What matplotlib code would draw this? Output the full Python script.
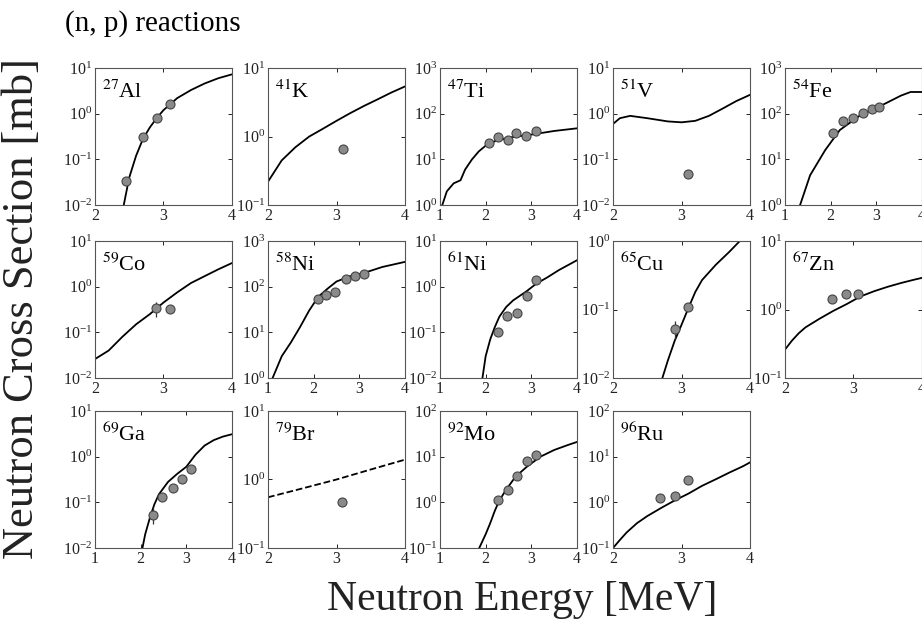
import numpy as np
import matplotlib
matplotlib.use('Agg')
import matplotlib.pyplot as plt

plt.rcParams['font.family'] = ['Liberation Serif', 'DejaVu Serif']
plt.rcParams['mathtext.fontset'] = 'stix'

# isotope labels, axis ranges
names = [r'$^{27}$Al', r'$^{41}$K', r'$^{47}$Ti', r'$^{51}$V', r'$^{54}$Fe',
         r'$^{59}$Co', r'$^{58}$Ni', r'$^{61}$Ni', r'$^{65}$Cu', r'$^{67}$Zn',
         r'$^{69}$Ga', r'$^{79}$Br', r'$^{92}$Mo', r'$^{96}$Ru']
xlims = [(2, 4), (2, 4), (1, 4), (2, 4), (1, 4),
         (2, 4), (1, 4), (1, 4), (2, 4), (2, 4),
         (1, 4), (2, 4), (1, 4), (2, 4)]
ylims = [(1e-2, 1e1), (1e-1, 1e1), (1e0, 1e3), (1e-2, 1e1), (1e0, 1e3),
         (1e-2, 1e1), (1e0, 1e3), (1e-2, 1e1), (1e-2, 1e0), (1e-1, 1e1),
         (1e-2, 1e1), (1e-1, 1e1), (1e-1, 1e2), (1e-1, 1e2)]

# calculated curves
al27_cx = [2.42, 2.5, 2.6, 2.7, 2.8, 2.9, 3.0, 3.2, 3.4, 3.6, 3.8, 4.0]
al27_cy = [0.01, 0.04, 0.12, 0.28, 0.5, 0.8, 1.2, 2.2, 3.3, 4.6, 6.0, 7.3]
k41_cx = [2.0, 2.2, 2.4, 2.6, 2.8, 3.0, 3.2, 3.4, 3.6, 3.8, 4.0]
k41_cy = [0.22, 0.45, 0.7, 1.0, 1.3, 1.7, 2.2, 2.8, 3.5, 4.4, 5.4]
ti47_cx = [1.05, 1.15, 1.3, 1.45, 1.55, 1.7, 1.85, 2.0, 2.2, 2.5, 3.0, 3.5, 4.0]
ti47_cy = [1.0, 2.0, 3.0, 3.5, 6.0, 10, 15, 20, 25, 30, 35, 42, 48]
v51_cx = [2.0, 2.1, 2.25, 2.5, 2.8, 3.0, 3.2, 3.4, 3.6, 3.8, 4.0]
v51_cy = [0.6, 0.8, 0.9, 0.8, 0.68, 0.65, 0.7, 0.9, 1.3, 1.9, 2.6]
fe54_cx = [1.33, 1.55, 1.88, 2.2, 2.65, 3.1, 3.54, 3.75, 4.0]
fe54_cy = [1.0, 4.5, 16, 44, 93, 150, 250, 300, 300]
co59_cx = [2.0, 2.2, 2.4, 2.6, 2.8, 3.0, 3.2, 3.4, 3.6, 3.8, 4.0]
co59_cy = [0.026, 0.04, 0.08, 0.15, 0.25, 0.45, 0.75, 1.2, 1.7, 2.4, 3.3]
ni58_cx = [1.1, 1.3, 1.5, 1.7, 1.9, 2.1, 2.3, 2.5, 2.8, 3.1, 3.5, 4.0]
ni58_cy = [1.0, 3.0, 6.0, 13, 30, 60, 90, 130, 170, 200, 270, 350]
ni61_cx = [1.93, 2.0, 2.1, 2.2, 2.3, 2.45, 2.6, 2.9, 3.1, 3.35, 3.6, 4.0]
ni61_cy = [0.01, 0.03, 0.07, 0.13, 0.22, 0.36, 0.5, 0.8, 1.15, 1.6, 2.3, 3.8]
cu65_cx = [2.72, 2.8, 2.9, 3.0, 3.1, 3.2, 3.3, 3.5, 3.7, 3.85, 4.0]
cu65_cy = [0.01, 0.018, 0.035, 0.06, 0.105, 0.18, 0.27, 0.45, 0.7, 1.0, 1.35]
zn67_cx = [2.0, 2.1, 2.2, 2.3, 2.5, 2.7, 2.9, 3.1, 3.3, 3.5, 3.7, 3.9, 4.0]
zn67_cy = [0.26, 0.35, 0.45, 0.55, 0.73, 0.95, 1.2, 1.55, 1.85, 2.15, 2.45, 2.75, 2.9]
ga69_cx = [2.04, 2.1, 2.2, 2.3, 2.4, 2.6, 2.8, 3.0, 3.2, 3.4, 3.6, 3.8, 4.0]
ga69_cy = [0.01, 0.02, 0.045, 0.09, 0.15, 0.28, 0.42, 0.6, 1.1, 1.75, 2.3, 2.75, 3.1]
br79_cx = [2.0, 2.5, 3.0, 3.5, 4.0]
br79_cy = [0.55, 0.74, 1.0, 1.4, 1.95]
mo92_cx = [1.86, 2.0, 2.1, 2.2, 2.3, 2.45, 2.65, 2.9, 3.2, 3.5, 3.8, 4.0]
mo92_cy = [0.1, 0.2, 0.35, 0.65, 1.1, 1.9, 3.6, 6.0, 10, 14, 18, 21]
ru96_cx = [2.0, 2.1, 2.2, 2.35, 2.5, 2.7, 2.9, 3.1, 3.3, 3.5, 3.7, 3.9, 4.0]
ru96_cy = [0.1, 0.15, 0.22, 0.35, 0.5, 0.75, 1.1, 1.55, 2.3, 3.2, 4.5, 6.2, 7.5]

# measured points
al27_px = [2.46, 2.70, 2.90, 3.09]
al27_py = [0.033, 0.31, 0.8, 1.6]
k41_px = [3.1]
k41_py = [0.66]
ti47_px = [2.07, 2.28, 2.48, 2.67, 2.89, 3.1]
ti47_py = [23, 31, 26, 38, 32, 42]
v51_px = [3.1]
v51_py = [0.047]
fe54_px = [2.06, 2.28, 2.48, 2.7, 2.9, 3.05]
fe54_py = [38, 69, 80, 103, 126, 139]
co59_px = [2.89, 3.09]
co59_py = [0.34, 0.32]
co59_err = [0.12, 0.0]
ni58_px = [2.09, 2.27, 2.46, 2.7, 2.9, 3.1]
ni58_py = [55, 67, 76, 145, 175, 193]
ni61_px = [2.28, 2.46, 2.69, 2.9, 3.1]
ni61_py = [0.10, 0.23, 0.26, 0.62, 1.38]
cu65_px = [2.91, 3.09]
cu65_py = [0.052, 0.11]
cu65_err = [0.015, 0.0]
zn67_px = [2.68, 2.89, 3.07]
zn67_py = [1.44, 1.7, 1.68]
ga69_px = [2.26, 2.47, 2.7, 2.91, 3.11]
ga69_py = [0.054, 0.13, 0.21, 0.33, 0.54]
ga69_err = [0.02, 0.0, 0.0, 0.0, 0.0]
br79_px = [3.08]
br79_py = [0.47]
mo92_px = [2.27, 2.48, 2.69, 2.9, 3.1]
mo92_py = [1.13, 1.9, 3.7, 8.0, 10.7]
ru96_px = [2.68, 2.9, 3.09]
ru96_py = [1.24, 1.4, 3.1]

curves = [(al27_cx, al27_cy), (k41_cx, k41_cy), (ti47_cx, ti47_cy), (v51_cx, v51_cy),
          (fe54_cx, fe54_cy), (co59_cx, co59_cy), (ni58_cx, ni58_cy), (ni61_cx, ni61_cy),
          (cu65_cx, cu65_cy), (zn67_cx, zn67_cy), (ga69_cx, ga69_cy), (br79_cx, br79_cy),
          (mo92_cx, mo92_cy), (ru96_cx, ru96_cy)]
points = [(al27_px, al27_py, None), (k41_px, k41_py, None), (ti47_px, ti47_py, None),
          (v51_px, v51_py, None), (fe54_px, fe54_py, None), (co59_px, co59_py, co59_err),
          (ni58_px, ni58_py, None), (ni61_px, ni61_py, None), (cu65_px, cu65_py, cu65_err),
          (zn67_px, zn67_py, None), (ga69_px, ga69_py, ga69_err), (br79_px, br79_py, None),
          (mo92_px, mo92_py, None), (ru96_px, ru96_py, None)]

fig = plt.figure(figsize=(9.22, 6.33), dpi=100)

lefts = [0.103, 0.2907, 0.4772, 0.6649, 0.8514]
bottoms = [0.676, 0.4028, 0.1343]
w, h = 0.1486, 0.2164

for i, name in enumerate(names):
    r, c = divmod(i, 5)
    ax = fig.add_axes([lefts[c], bottoms[r], w, h])
    ax.set_yscale('log')
    cx, cy = curves[i]
    ls = '--' if name == r'$^{79}$Br' else '-'
    ax.plot(cx, cy, color='black', lw=1.3, ls=ls)
    px, py, err = points[i]
    if err is not None:
        ax.errorbar(px, py, yerr=err, fmt='none', ecolor='#333333', elinewidth=0.9)
    ax.plot(px, py, 'o', ms=6.5, mfc='#8a8a8a', mec='#444444', mew=0.8)
    ax.set_xlim(xlims[i])
    ax.set_ylim(ylims[i])
    ax.set_xticks(range(int(xlims[i][0]), int(xlims[i][1]) + 1))
    ax.minorticks_off()
    lo, hi = ylims[i]
    ax.set_yticks([10.0 ** k for k in range(int(round(np.log10(lo))), int(round(np.log10(hi))) + 1)])
    ax.tick_params(direction='in', length=3, width=0.7, labelsize=11.5, pad=2,
                   right=True, top=True, colors='#222222')
    for s in ax.spines.values():
        s.set_color('#555555')
        s.set_linewidth(0.8)
    ax.text(0.05, 0.78, name, transform=ax.transAxes, fontsize=16, va='baseline')

fig.text(0.071, 0.963, '(n, p) reactions', fontsize=21, va='center', ha='left')
fig.text(0.024, 0.513, 'Neutron Cross Section [mb]', fontsize=32, rotation=90,
         va='center', ha='center', color='#222222')
fig.text(0.566, 0.052, 'Neutron Energy [MeV]', fontsize=30, va='center', ha='center',
         color='#222222')

plt.savefig('out.png', dpi=100)
